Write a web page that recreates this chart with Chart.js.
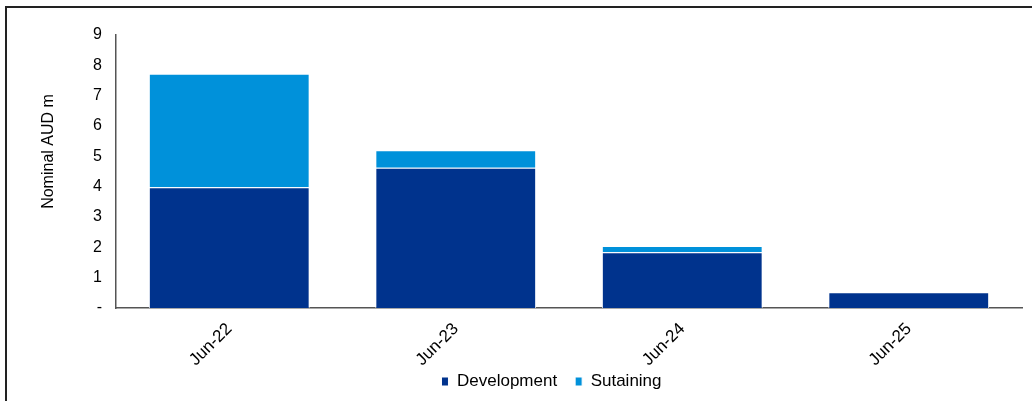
<!DOCTYPE html>
<html>
<head>
<meta charset="utf-8">
<script src="https://cdn.jsdelivr.net/npm/chart.js@4"></script>
<style>
  html, body { margin: 0; padding: 0; background: #fff; overflow: hidden; }
  #wrap { position: absolute; left: 0; top: 0; width: 1032px; height: 401px; }
  #frame { position: absolute; left: 5px; top: 6px; width: 1040px; height: 420px; border: 2px solid #222; box-sizing: border-box; }
  canvas { position: absolute; left: 0; top: 0; }
</style>
</head>
<body>
<div id="wrap">
  <div id="frame"></div>
  <canvas id="c" width="1032" height="401"></canvas>
</div>
<script>
const categories = ["Jun-22", "Jun-23", "Jun-24", "Jun-25"];
const development = [3.98, 4.62, 1.84, 0.52];
const sustaining = [3.74, 0.58, 0.20, null];
const seriesNames = ["Development", "Sutaining"];
const yTicks = [0, 1, 2, 3, 4, 5, 6, 7, 8, 9];

const FONT = "'Liberation Sans', Arial, sans-serif";

const legendShift = {
  id: 'legendShift',
  afterLayout(chart) {
    const lg = chart.legend;
    if (lg) { lg.left += 21; lg.right += 21; lg.top -= 16; }
  }
};

new Chart(document.getElementById('c'), {
  type: 'bar',
  data: {
    labels: categories,
    datasets: [
      { label: seriesNames[0], data: development, backgroundColor: '#00338D', borderColor: '#ffffff', borderWidth: 1, barPercentage: 0.71, categoryPercentage: 1.0 },
      { label: seriesNames[1], data: sustaining, backgroundColor: '#0091DA', borderColor: '#ffffff', borderWidth: 1, barPercentage: 0.71, categoryPercentage: 1.0 }
    ]
  },
  plugins: [legendShift],
  options: {
    responsive: false,
    animation: false,
    devicePixelRatio: 1,
    layout: { padding: { left: 39, right: 10, top: 35, bottom: 0 } },
    plugins: {
      legend: {
        position: 'bottom',
        maxHeight: 30,
        labels: {
          font: { family: FONT, size: 17 },
          color: '#000',
          boxWidth: 7,
          boxHeight: 9,
          padding: 18
        }
      },
      tooltip: { enabled: false }
    },
    scales: {
      x: {
        stacked: true,
        grid: { display: false, drawTicks: false },
        border: { display: true, color: '#555', width: 1.5 },
        ticks: {
          font: { family: FONT, size: 17 },
          color: '#000',
          minRotation: 45,
          maxRotation: 45,
          padding: 11
        },
        afterFit: (s) => { s.height = 63; }
      },
      y: {
        stacked: true,
        min: 0,
        max: 9,
        afterBuildTicks: (s) => { s.ticks = yTicks.map(v => ({ value: v })); },
        grid: { display: false, drawTicks: false },
        border: { display: true, color: '#555', width: 1.5 },
        ticks: {
          font: { family: FONT, size: 16 },
          color: '#000',
          padding: 14,
          callback: (v) => v === 0 ? '-' : String(v)
        },
        title: {
          display: true,
          text: '\u00A0'.repeat(9) + 'Nominal AUD m',
          font: { family: FONT, size: 16 },
          color: '#000',
          padding: { top: 0, bottom: 20 }
        },
        afterFit: (s) => { s.width = 77; }
      }
    }
  }
});
</script>
</body>
</html>
